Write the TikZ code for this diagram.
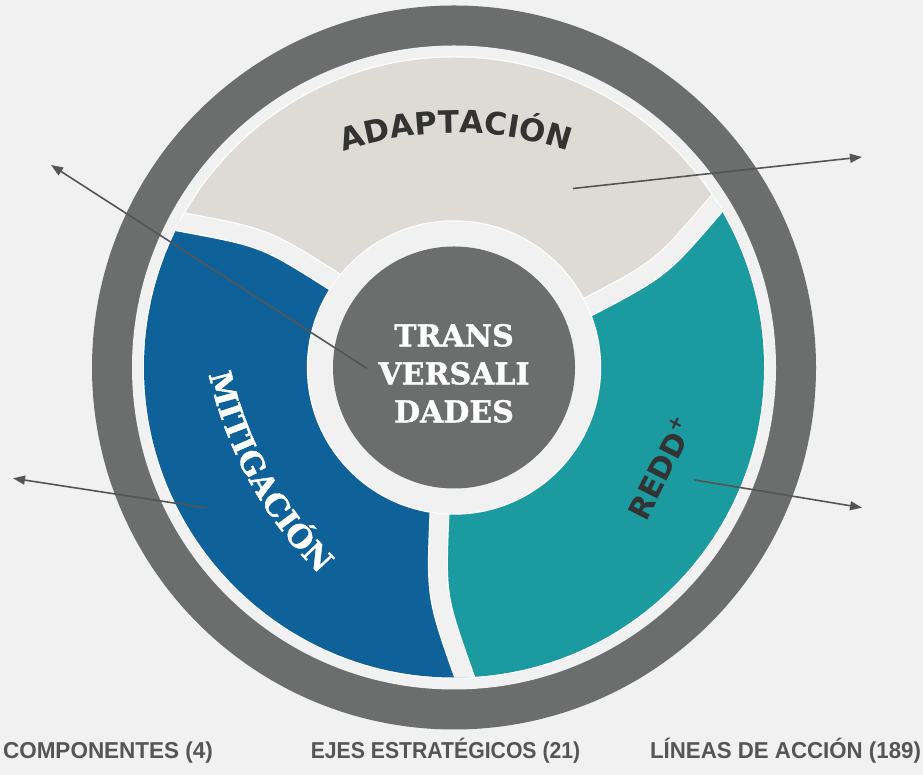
\documentclass[tikz,border=0pt]{standalone}
\usepackage{fontspec}
\usepackage{graphicx}
\usetikzlibrary{decorations.text, arrows.meta}
\newfontfamily\dvsans{DejaVu Sans}
\newfontfamily\dvserif{DejaVu Serif}[BoldFeatures={FakeBold=1.3}]
\newfontfamily\libsans{Liberation Sans}
\definecolor{bg}{RGB}{241,241,241}
\definecolor{ringgray}{RGB}{107,110,109}
\definecolor{adapt}{RGB}{222,219,214}
\definecolor{mitblue}{RGB}{14,98,153}
\definecolor{reddteal}{RGB}{27,154,159}
\definecolor{txtdark}{RGB}{51,51,51}
\definecolor{arrowgray}{RGB}{85,85,85}
\definecolor{labgray}{RGB}{85,85,85}
\newcommand\sectorfill[2]{%
  \begin{scope}[shift={(C)}, rotate=#2]
    \fill[#1] (0,0) -- (23.5:119.4) -- (24.27:144.8) .. controls (25.5:229.35) .. (31.89:308.6) -- (33.69:342.5)
      arc[start angle=33.69, end angle=153.69, radius=342.5]
      -- (151.89:308.6) .. controls (145.5:229.35) .. (144.27:144.8) -- (143.5:119.4) -- cycle;
  \end{scope}}
\newcommand\gapstroke[3]{%
  \begin{scope}[shift={(C)}, rotate=#1]
    \draw[#2, line width=#3] (23.5:119.4) -- (24.27:144.8) .. controls (25.5:229.35) .. (31.89:308.6) -- (33.69:342.5);
  \end{scope}}
\begin{document}
\begin{tikzpicture}[x=1pt, y=1pt,
  arrowline/.style={draw=arrowgray, line width=1.6pt, -{Triangle[length=12pt,width=9pt]}},
  bottomlabel/.style={text=labgray, font=\libsans\bfseries\fontsize{23}{23}\selectfont, anchor=base, inner sep=0pt},
  centertext/.style={text=white, font=\dvserif\bfseries\fontsize{30}{38}\selectfont, align=center, inner sep=0pt}]
\useasboundingbox (0,0) rectangle (923,775);
\fill[bg] (0,0) rectangle (923,775);
\coordinate (C) at (454,407.5);
% rings
\fill[ringgray] (C) circle[radius=362];
\fill[bg] (C) circle[radius=322];
\fill[white] (C) circle[radius=311.2];
\begin{scope}
  \clip (C) circle[radius=310];
  \sectorfill{adapt}{0}
  \sectorfill{mitblue}{120}
  \sectorfill{reddteal}{240}
  \gapstroke{0}{white}{20pt}
  \gapstroke{120}{white}{20pt}
  \gapstroke{240}{white}{20pt}
  \gapstroke{0}{bg}{17.5pt}
  \gapstroke{120}{bg}{17.5pt}
  \gapstroke{240}{bg}{17.5pt}
\end{scope}
\fill[white] (C) circle[radius=147.2];
\fill[bg] (C) circle[radius=146];
\fill[ringgray] (C) circle[radius=121];
% curved labels
\path[decorate, decoration={text along path, text={|\dvsans\bfseries\fontsize{31}{31}\selectfont|ADAPTACIÓN}, text align=center, text color=txtdark}]
  (281,595.1) arc[start angle=120, end angle=60, radius=350];
\path[decorate, decoration={text along path, text={|\dvserif\bfseries\fontsize{31}{31}\selectfont|MITIGACIÓN}, text align=center, text color=white}]
  (199,489) arc[start angle=180, end angle=238, radius=405];
\node[rotate=63, text=txtdark, font=\dvsans\bfseries\fontsize{30}{30}\selectfont, inner sep=0pt] (redd) at (660,307) {REDD\raisebox{0.42em}{\fontsize{19}{19}\selectfont +}};
\node[centertext] (trans) at (454,401.6) {TRANS\\VERSALI\\DADES};
% arrows
\coordinate (a1s) at (366.7,406.7); \coordinate (a1e) at (51,610);
\coordinate (a2s) at (573,586.5);   \coordinate (a2e) at (862,618);
\coordinate (a3s) at (206.5,267);   \coordinate (a3e) at (13,296.7);
\coordinate (a4s) at (694.6,295);   \coordinate (a4e) at (862,267.3);
\draw[arrowline] (a1s) -- (a1e);
\draw[arrowline] (a2s) -- (a2e);
\draw[arrowline] (a3s) -- (a3e);
\draw[arrowline] (a4s) -- (a4e);
% bottom labels
\node[bottomlabel] (comp) at (108,16) {\scalebox{0.978}[1]{COMPONENTES (4)}};
\node[bottomlabel] (ejes) at (445.5,16) {\scalebox{0.922}[1]{EJES ESTRATÉGICOS (21)}};
\node[bottomlabel] (lineas) at (785.5,16) {\scalebox{0.968}[1]{LÍNEAS DE ACCIÓN (189)}};
\end{tikzpicture}
\end{document}
